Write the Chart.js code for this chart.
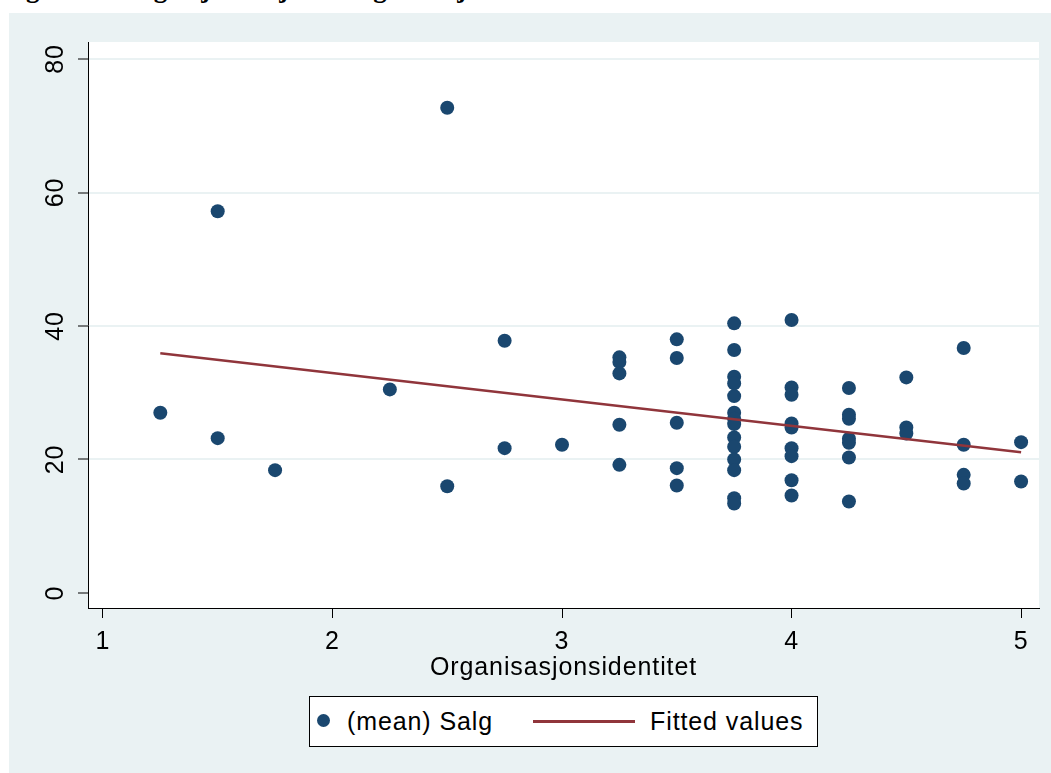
<!DOCTYPE html>
<html><head><meta charset="utf-8">
<script src="https://cdn.jsdelivr.net/npm/chart.js@4.4.1/dist/chart.umd.min.js"></script>
<style>
html,body{margin:0;padding:0;background:#fff;width:1051px;height:773px;overflow:hidden;}
#title{position:absolute;left:2px;top:-25px;font:bold 27px "Liberation Serif","Times New Roman",serif;line-height:27px;white-space:nowrap;color:#000;}
#panel{position:absolute;left:9px;top:13px;width:1042px;height:760px;background:#eaf2f3;}
#c{position:absolute;left:0;top:0;}
#legend{position:absolute;left:309px;top:696px;width:509px;height:51px;box-sizing:border-box;border:1px solid #000;background:#fff;font:25px "Liberation Sans",Arial,sans-serif;letter-spacing:0.9px;color:#000;}
#legend .dot{position:absolute;left:7px;top:17px;width:13px;height:13px;border-radius:50%;background:#1a476f;}
#legend .t1{position:absolute;left:37px;top:0;line-height:49px;white-space:nowrap;}
#legend .ln{position:absolute;left:223px;top:23px;width:102px;height:2.5px;background:#90353b;}
#legend .t2{position:absolute;left:340px;top:0;line-height:49px;white-space:nowrap;}
</style>
</head><body>
<div id="title">Figur 4.2: Regresjonslinje for organisasjonsidentitet</div>
<div id="panel"></div>
<canvas id="c" width="1051" height="773"></canvas>
<div id="legend"><span class="dot"></span><span class="t1">(mean) Salg</span><span class="ln"></span><span class="t2">Fitted values</span></div>
<script>
const xTicks = [1, 2, 3, 4, 5];
const yTicks = [0, 20, 40, 60, 80];
const salgX = [1.25, 1.5, 1.5, 1.75, 2.25, 2.5, 2.5, 2.75, 2.75, 3.0,
  3.25, 3.25, 3.25, 3.25, 3.25,
  3.5, 3.5, 3.5, 3.5, 3.5,
  3.75, 3.75, 3.75, 3.75, 3.75, 3.75, 3.75, 3.75, 3.75, 3.75, 3.75, 3.75, 3.75, 3.75,
  4.0, 4.0, 4.0, 4.0, 4.0, 4.0, 4.0, 4.0, 4.0,
  4.25, 4.25, 4.25, 4.25, 4.25, 4.25, 4.25,
  4.5, 4.5, 4.5,
  4.75, 4.75, 4.75, 4.75,
  5.0, 5.0];
const salgY = [27.0, 57.2, 23.2, 18.4, 30.5, 72.7, 16.0, 37.8, 21.7, 22.2,
  35.3, 34.6, 32.9, 25.2, 19.2,
  38.0, 35.2, 25.5, 18.7, 16.1,
  40.4, 36.4, 32.4, 31.4, 29.5, 27.0, 26.1, 25.3, 23.3, 21.9, 20.0, 18.4, 14.2, 13.4,
  40.9, 30.8, 29.7, 25.4, 24.8, 21.7, 20.5, 16.9, 14.6,
  30.7, 26.7, 26.1, 23.1, 22.5, 20.3, 13.7,
  32.3, 24.8, 23.9,
  36.7, 22.2, 17.7, 16.4,
  22.6, 16.7];
const fitX = [1.25, 5.0];
const fitY = [35.9, 21.1];

const X_MIN = 0.935, X_MAX = 5.078, Y_MIN = -2.25, Y_MAX = 82.55;
const FONT = '"Liberation Sans", Arial, sans-serif';

const salgPoints = salgX.map((x, i) => ({x: x, y: salgY[i]}));
const fitPoints = fitX.map((x, i) => ({x: x, y: fitY[i]}));

const stylePlugin = {
  id: 'stylePlugin',
  beforeUpdate(chart) { chart.ctx.letterSpacing = '0.9px'; },
  beforeDraw(chart) {
    const ctx = chart.ctx, a = chart.chartArea;
    ctx.letterSpacing = '0.9px';
    ctx.save();
    ctx.fillStyle = '#ffffff';
    ctx.fillRect(a.left, a.top, a.right - a.left, a.bottom - a.top);
    ctx.restore();
  }
};

new Chart(document.getElementById('c'), {
  type: 'scatter',
  data: {
    datasets: [
      {
        type: 'line',
        label: 'Fitted values',
        data: fitPoints,
        borderColor: '#90353b',
        borderWidth: 2.5,
        pointRadius: 0,
        fill: false,
        tension: 0,
        order: 0
      },
      {
        type: 'scatter',
        label: '(mean) Salg',
        data: salgPoints,
        pointRadius: 7,
        pointBackgroundColor: '#1a476f',
        pointBorderWidth: 0,
        order: 1
      }
    ]
  },
  options: {
    responsive: false,
    animation: false,
    events: [],
    layout: { padding: { left: 0, top: 42, right: 12, bottom: 85 } },
    plugins: { legend: { display: false }, tooltip: { enabled: false } },
    scales: {
      x: {
        type: 'linear', position: 'bottom', min: X_MIN, max: X_MAX,
        afterBuildTicks: s => { s.ticks = xTicks.map(v => ({value: v})); },
        afterFit: s => { s.height = 80; },
        ticks: { font: { family: FONT, size: 25 }, color: '#000', padding: 9, autoSkip: false, maxRotation: 0, minRotation: 0 },
        grid: { drawOnChartArea: false, drawTicks: true, tickLength: 10, tickColor: '#000', tickWidth: 1 },
        border: { display: true, color: '#000', width: 1 },
        title: { display: true, text: 'Organisasjonsidentitet', color: '#000', font: { family: FONT, size: 25 }, padding: { top: 0, bottom: 5 } }
      },
      y: {
        type: 'linear', position: 'left', min: Y_MIN, max: Y_MAX,
        afterBuildTicks: s => { s.ticks = yTicks.map(v => ({value: v})); },
        afterFit: s => { s.width = 88; },
        ticks: { font: { family: FONT, size: 25 }, color: '#000', padding: 7, minRotation: 90, maxRotation: 90, crossAlign: 'center', autoSkip: false },
        grid: {
          color: c => (c.tick && c.tick.value === 0) ? 'rgba(0,0,0,0)' : '#eaf2f3',
          lineWidth: 2, drawTicks: true, tickLength: 10, tickColor: '#000', tickWidth: 1
        },
        border: { display: true, color: '#000', width: 1 }
      }
    }
  },
  plugins: [stylePlugin]
});
</script>
</body></html>
